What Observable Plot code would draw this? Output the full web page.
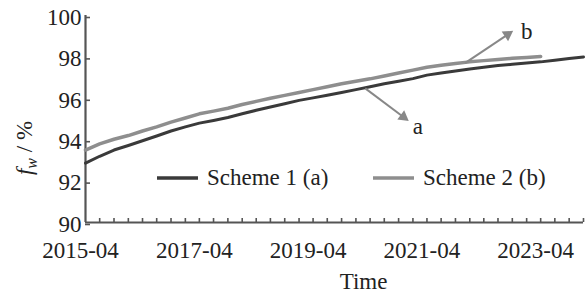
<!DOCTYPE html>
<html><head><meta charset="utf-8">
<script src="https://cdn.jsdelivr.net/npm/d3@7"></script>
<script src="https://cdn.jsdelivr.net/npm/@observablehq/plot@0.6"></script>
<style>body{margin:0;background:#fff} svg text{font-family:"Liberation Serif",Tinos,"Nimbus Roman","Times New Roman",Times,serif !important;}</style>
</head><body><div id="chart"></div>
<script>
const quarters = ["2015-04","2015-07","2015-10","2016-01","2016-04","2016-07","2016-10","2017-01","2017-04","2017-07","2017-10","2018-01","2018-04","2018-07","2018-10","2019-01","2019-04","2019-07","2019-10","2020-01","2020-04","2020-07","2020-10","2021-01","2021-04","2021-07","2021-10","2022-01","2022-04","2022-07","2022-10","2023-01","2023-04","2023-07","2023-10","2024-01"];
const scheme1 = [92.87,93.2,93.5,93.72,93.95,94.18,94.42,94.62,94.8,94.93,95.07,95.25,95.42,95.58,95.74,95.9,96.02,96.15,96.28,96.42,96.56,96.7,96.82,96.95,97.12,97.22,97.32,97.42,97.5,97.58,97.64,97.7,97.76,97.84,97.92,98.0];
const scheme2 = [93.5,93.8,94.02,94.2,94.42,94.62,94.85,95.05,95.25,95.38,95.52,95.7,95.85,96.0,96.14,96.28,96.42,96.56,96.7,96.82,96.94,97.08,97.22,97.36,97.5,97.6,97.68,97.76,97.82,97.88,97.93,97.97,98.02];
const yTicks = [90,92,94,96,98,100];
const xTickLabels = ["2015-04","2017-04","2019-04","2021-04","2023-04"];
const seriesNames = ["Scheme 1 (a)","Scheme 2 (b)"];
const seriesColors = ["#3a3a3a","#8e8e8e"];
const arrowLabels = ["a","b"];
const arrowStart = [["2020-03",96.48],["2021-12",97.7]];
const arrowEnd = [["2020-11",95.1],["2022-09",99.08]];
const labelPos = [["2021-02",94.65],["2023-01",99.2]];
const xTitle = "Time";

const FONT = "'Liberation Serif',Tinos,'Nimbus Roman','Times New Roman',Times,serif";
const FS = 23;
const parse = d3.utcParse("%Y-%m");
const dataA = scheme1.map((v,i)=>({date: parse(quarters[i]), v}));
const dataB = scheme2.map((v,i)=>({date: parse(quarters[i]), v}));
const arrows = arrowLabels.map((l,i)=>({label:l, x1:parse(arrowStart[i][0]), y1:arrowStart[i][1], x2:parse(arrowEnd[i][0]), y2:arrowEnd[i][1], lx:parse(labelPos[i][0]), ly:labelPos[i][1]}));
const axisColor = "#555";

const base = {
  width:585, height:296, marginLeft:85, marginRight:2, marginTop:15, marginBottom:74,
  style:{fontFamily:FONT, fontSize:FS+"px", color:"#222", background:"#fff"},
  x:{type:"utc", domain:[parse(quarters[0]), parse(quarters[quarters.length-1])]},
  y:{domain:[90,100]}
};
// first pass to obtain the scales for arrowhead orientation
const probe = Plot.plot({...base, marks:[Plot.ruleY([90])]});
const sx = probe.scale("x"), sy = probe.scale("y");
arrows.forEach(a=>{
  const dx = sx.apply(a.x2) - sx.apply(a.x1), dy = sy.apply(a.y2) - sy.apply(a.y1);
  a.rot = Math.atan2(dx, -dy) * 180 / Math.PI;
});

const plot = Plot.plot({...base,
  marks:[
    Plot.axisX(quarters.slice(1).map(parse), {tickSize:-4, tickFormat:()=>"", stroke:axisColor, strokeWidth:1.6, label:null}),
    Plot.axisX(xTickLabels.map(parse), {tickSize:0, tickPadding:19, tickFormat:d3.utcFormat("%Y-%m"), dx:-5, fontSize:FS, label:null}),
    Plot.axisY(yTicks, {tickSize:-5, tickPadding:9, dy:2, fontSize:FS, stroke:axisColor, strokeWidth:1.6, label:null}),
    Plot.ruleY([90], {stroke:axisColor, strokeWidth:2.2}),
    Plot.ruleX([parse(quarters[0])], {stroke:axisColor, strokeWidth:2.2}),
    Plot.line(dataB, {x:"date", y:"v", stroke:seriesColors[1], strokeWidth:3.5}),
    Plot.line(dataA, {x:"date", y:"v", stroke:seriesColors[0], strokeWidth:3}),
    Plot.link(arrows, {x1:"x1", y1:"y1", x2:"x2", y2:"y2", stroke:"#888", strokeWidth:2}),
    Plot.dot(arrows, {x:"x2", y:"y2", symbol:"triangle2", r:5.5, fill:"#888", rotate:"rot"}),
    Plot.text(arrows, {x:"lx", y:"ly", text:"label", fontSize:FS, fill:"#222"}),
    Plot.text([xTitle], {frameAnchor:"bottom", dy:66, dx:29, fontSize:FS, fill:"#222"})
  ]
});
document.getElementById("chart").appendChild(plot);

const svg = d3.select(plot);
// y-axis title
const yt = svg.append("text").attr("transform","translate(32,148) rotate(-90)")
  .attr("text-anchor","middle").attr("fill","#222")
  .style("font-family",FONT).style("font-size",FS+"px");
yt.append("tspan").attr("font-style","italic").text("f");
yt.append("tspan").attr("font-style","italic").attr("font-size","16px").attr("dy",5).text("w");
yt.append("tspan").attr("dy",-5).text(" / %");
// legend
const legX = [157, 373];
seriesNames.forEach((name,i)=>{
  svg.append("line").attr("x1",legX[i]).attr("x2",legX[i]+41).attr("y1",178).attr("y2",178)
    .attr("stroke",seriesColors[i]).attr("stroke-width",3.5);
  svg.append("text").attr("x",legX[i]+50).attr("y",185).attr("fill","#222").attr("text-anchor","start")
    .style("font-family",FONT).style("font-size",FS+"px").text(name);
});
</script></body></html>
